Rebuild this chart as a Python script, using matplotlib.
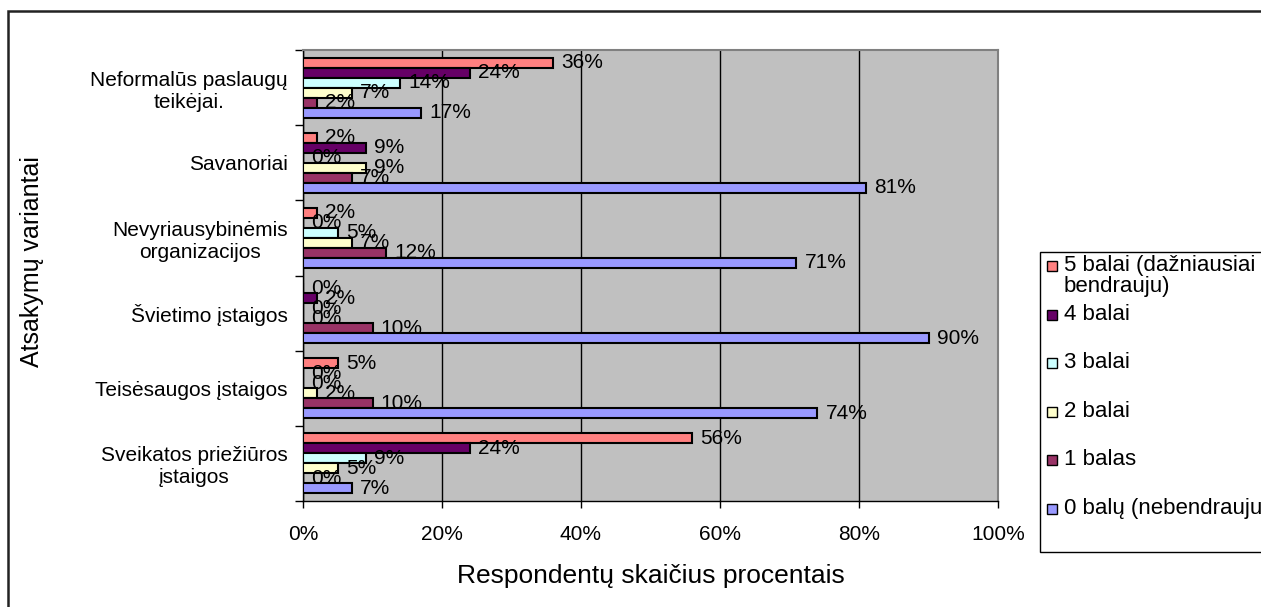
import numpy as np
import matplotlib
matplotlib.use("Agg")
import matplotlib.pyplot as plt
from matplotlib.patches import Rectangle

plt.rcParams['font.family'] = ['Liberation Sans', 'DejaVu Sans']

categories = ['Neformalūs paslaugų\nteikėjai.',
              'Savanoriai',
              'Nevyriausybinėmis\norganizacijos',
              'Švietimo įstaigos',
              'Teisėsaugos įstaigos',
              'Sveikatos priežiūros\nįstaigos']

series = ['5 balai (dažniausiai\nbendrauju)', '4 balai', '3 balai',
          '2 balai', '1 balas', '0 balų (nebendrauju)']
colors = ['#FF8080', '#660066', '#CCFFFF', '#FFFFCC', '#993366', '#9999FF']

# percentages per category, one list per score
balai5 = [36, 2, 2, 0, 5, 56]
balai4 = [24, 9, 0, 2, 0, 24]
balai3 = [14, 0, 5, 0, 0, 9]
balai2 = [7, 9, 7, 0, 2, 5]
balai1 = [2, 7, 12, 10, 10, 0]
balai0 = [17, 81, 71, 90, 74, 7]
values = [balai5, balai4, balai3, balai2, balai1, balai0]

W, H = 1261, 607
fig = plt.figure(figsize=(W / 100, H / 100), dpi=100)
ax = fig.add_axes([303 / W, 1 - 501 / H, 695 / W, 451 / H])
ax.set_facecolor('#C0C0C0')

def px(x, y):
    return (x / W, 1 - y / H)

y = np.arange(len(categories))
h = 0.133
for j, (name, vals, col) in enumerate(zip(series, values, colors)):
    pos = y + (j - 2.5) * h
    ax.barh(pos, vals, height=h, color=col, edgecolor='black', linewidth=1.5, zorder=3)
    for p, v in zip(pos, vals):
        ax.annotate(f'{v}%', (v, p), xytext=(6, 0), textcoords='offset points',
                    va='center', ha='left', fontsize=15, zorder=4)

ax.set_xlim(0, 100)
ax.set_ylim(len(categories) - 0.5, -0.5)
ax.set_xticks(range(0, 101, 20))
ax.set_xticklabels([f'{t}%' for t in range(0, 101, 20)], fontsize=15)
ax.tick_params(axis='x', direction='out', length=5, width=1, pad=12)
ax.grid(axis='x', color='black', linewidth=1, zorder=1)

# category labels at the centres, tick marks between groups
ax.set_yticks(np.arange(-0.5, len(categories)), minor=False)
ax.set_yticklabels([])
ax.set_yticks(y, minor=True)
ax.set_yticklabels(categories, minor=True, fontsize=15, multialignment='center')
ax.tick_params(axis='y', which='major', direction='out', length=6, width=1)
ax.tick_params(axis='y', which='minor', length=0, pad=11)

for s in ['top', 'right']:
    ax.spines[s].set_color('#808080')
    ax.spines[s].set_linewidth(1.5)
for s in ['left', 'bottom']:
    ax.spines[s].set_color('black')
    ax.spines[s].set_linewidth(1)

ax.set_xlabel('Respondentų skaičius procentais', fontsize=19)
ax.xaxis.set_label_coords(0.5, -0.166)
ax.xaxis.label.set_verticalalignment('center')
ax.set_ylabel('Atsakymų variantai', fontsize=18)
ax.yaxis.set_label_coords(-0.39, 0.53)
ax.yaxis.label.set_verticalalignment('center')

# outer chart frame
fig.patches.append(Rectangle(px(8, 620), (1300 - 8) / W, (620 - 11) / H,
                             transform=fig.transFigure, fill=False,
                             edgecolor='#222222', linewidth=1.8))

# legend box
fig.patches.append(Rectangle(px(1040, 552), (1300 - 1040) / W, (552 - 252) / H,
                             transform=fig.transFigure, facecolor='white',
                             edgecolor='black', linewidth=1))
for j, (name, col) in enumerate(zip(series, colors)):
    yc = 266 + 48.6 * j
    fig.patches.append(Rectangle(px(1047, yc + 5), 10 / W, 10 / H,
                                 transform=fig.transFigure, facecolor=col,
                                 edgecolor='black', linewidth=1))
    fig.text(*px(1064, yc - 11), name, fontsize=16, va='top', ha='left',
             linespacing=1.0)

fig.savefig('out.png', dpi=100)
